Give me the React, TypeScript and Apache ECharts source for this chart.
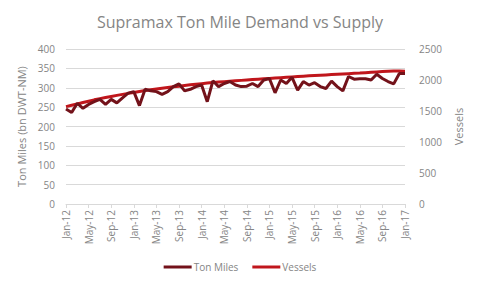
import React, { useEffect, useRef } from "react";
import * as echarts from "echarts";

// Monthly categories, Jan-12 through Jan-17
const monthNames = ["Jan", "Feb", "Mar", "Apr", "May", "Jun", "Jul", "Aug", "Sep", "Oct", "Nov", "Dec"];
const years = ["12", "13", "14", "15", "16", "17"];
const months: string[] = [];
years.forEach((y) => monthNames.forEach((m) => months.push(`${m}-${y}`)));
months.length = 61;

// Ton miles demand (bn DWT-NM), left axis
const tonMiles = [
  245, 236, 260, 247, 257, 264, 270, 257, 270, 261, 274, 286,
  290, 254, 296, 292, 290, 283, 290, 303, 310, 292, 296, 303,
  307, 264, 318, 303, 311, 316, 307, 303, 304, 311, 303, 320,
  324, 287, 320, 311, 327, 294, 316, 307, 313, 303, 298, 317,
  303, 292, 329, 322, 323, 323, 320, 335, 324, 316, 310, 337,
  337,
];

// Supramax fleet (vessels), right axis
const vessels = [
  1570, 1592, 1614, 1636, 1658, 1680, 1700, 1718, 1735, 1752, 1768, 1784,
  1800, 1815, 1829, 1842, 1854, 1866, 1878, 1890, 1901, 1912, 1922, 1932,
  1941, 1950, 1958, 1966, 1973, 1980, 1987, 1994, 2001, 2008, 2014, 2020,
  2026, 2032, 2038, 2044, 2050, 2056, 2062, 2067, 2072, 2077, 2082, 2087,
  2092, 2097, 2102, 2107, 2112, 2118, 2124, 2130, 2136, 2141, 2144, 2145,
  2143,
];

const leftTicks = { min: 0, max: 400, interval: 50 };
const rightTicks = { min: 0, max: 2500, interval: 500 };

const gray = "#858585";
const font = "'Open Sans', 'Liberation Sans', sans-serif";

export default function App() {
  const ref = useRef<HTMLDivElement>(null);

  useEffect(() => {
    if (!ref.current) return;
    const chart = echarts.init(ref.current, undefined, { renderer: "svg" });
    chart.setOption({
      animation: false,
      backgroundColor: "#ffffff",
      textStyle: { fontFamily: font },
      title: {
        text: "Supramax Ton Mile Demand vs Supply",
        left: "center",
        top: 9,
        textStyle: { color: gray, fontSize: 16, fontWeight: "normal", fontFamily: font },
      },
      legend: {
        bottom: 11,
        left: "center",
        itemWidth: 28,
        itemHeight: 3,
        itemGap: 14,
        icon: "rect",
        textStyle: { color: gray, fontSize: 10, fontFamily: font, padding: [0, 0, 0, -3] },
        data: ["Ton Miles", "Vessels"],
      },
      grid: { left: 66, right: 75, top: 49, bottom: 84 },
      xAxis: {
        type: "category",
        data: months,
        boundaryGap: false,
        axisLine: { lineStyle: { color: "#d9d9d9" } },
        axisTick: { interval: 3, length: 4, lineStyle: { color: "#d9d9d9" } },
        axisLabel: {
          interval: 3,
          rotate: 90,
          color: gray,
          fontSize: 10,
          margin: 6,
          fontFamily: font,
        },
      },
      yAxis: [
        {
          type: "value",
          ...leftTicks,
          name: "Ton Miles (bn DWT-NM)",
          nameLocation: "middle",
          nameGap: 38,
          nameTextStyle: { color: gray, fontSize: 11, fontFamily: font },
          axisLine: { show: false },
          axisTick: { show: false },
          axisLabel: { color: gray, fontSize: 10, margin: 11, fontFamily: font },
          splitLine: { lineStyle: { color: "#d9d9d9" } },
        },
        {
          type: "value",
          ...rightTicks,
          name: "Vessels",
          nameLocation: "middle",
          nameGap: 46,
          nameTextStyle: { color: gray, fontSize: 11, fontFamily: font },
          axisLine: { show: false },
          axisTick: { show: false },
          axisLabel: {
            color: gray,
            fontSize: 10,
            margin: 14,
            fontFamily: font,
            formatter: (v: number) => String(v),
          },
          splitLine: { show: false },
        },
      ],
      series: [
        {
          name: "Ton Miles",
          type: "line",
          yAxisIndex: 0,
          data: tonMiles,
          symbol: "none",
          lineStyle: { color: "#73121a", width: 3 },
          itemStyle: { color: "#73121a" },
          z: 3,
        },
        {
          name: "Vessels",
          type: "line",
          yAxisIndex: 1,
          data: vessels,
          symbol: "none",
          lineStyle: { color: "#c0161c", width: 3 },
          itemStyle: { color: "#c0161c" },
          z: 2,
        },
      ],
    });
    return () => chart.dispose();
  }, []);

  return (
    <div
      ref={ref}
      style={{ position: "fixed", left: 0, top: 0, width: 480, height: 288 }}
    />
  );
}
